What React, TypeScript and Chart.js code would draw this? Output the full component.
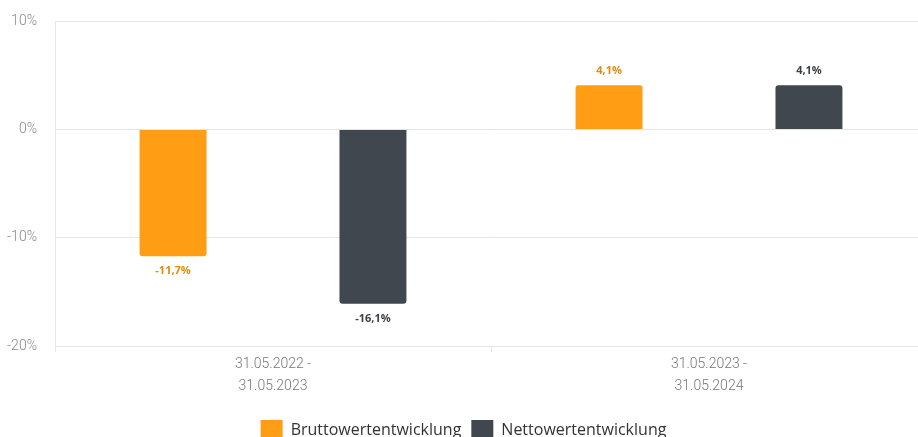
import React, { useEffect, useRef } from "react";
import { Chart, registerables } from "chart.js";

Chart.register(...registerables);

const categories: string[][] = [
  ["31.05.2022 -", "31.05.2023"],
  ["31.05.2023 -", "31.05.2024"],
];
const bruttoValues: number[] = [-11.7, 4.1];
const nettoValues: number[] = [-16.1, 4.1];
const seriesNames: string[] = ["Bruttowertentwicklung", "Nettowertentwicklung"];
const yTicks: number[] = [-20, -10, 0, 10];

const ORANGE = "#FF9D14";
const DARK = "#41474F";
const ORANGE_TEXT = "#E58A0C";
const DARK_TEXT = "#3A3F46";
const TICK_FONT = '"Roboto", sans-serif';

const fmt = (v: number) => v.toFixed(1).replace(".", ",") + "%";

const valueLabels = {
  id: "valueLabels",
  afterDatasetsDraw(chart: any) {
    const ctx = chart.ctx;
    ctx.save();
    ctx.font = 'bold 11px "Open Sans", sans-serif';
    ctx.textAlign = "center";
    ctx.textBaseline = "middle";
    chart.data.datasets.forEach((ds: any, di: number) => {
      const meta = chart.getDatasetMeta(di);
      meta.data.forEach((bar: any, i: number) => {
        const v = ds.data[i] as number;
        ctx.fillStyle = di === 0 ? ORANGE_TEXT : DARK_TEXT;
        const y = v >= 0 ? bar.y - 14 : bar.y + 15;
        ctx.fillText(fmt(v), bar.x, y);
      });
    });
    ctx.restore();
  },
};

export default function App() {
  const ref = useRef<HTMLCanvasElement | null>(null);
  useEffect(() => {
    if (!ref.current) return;
    const chart = new Chart(ref.current, {
      type: "bar",
      data: {
        labels: categories as any,
        datasets: [
          {
            label: seriesNames[0],
            data: bruttoValues,
            backgroundColor: ORANGE,
            borderRadius: 3,
            categoryPercentage: 0.917,
            barPercentage: 0.335,
          },
          {
            label: seriesNames[1],
            data: nettoValues,
            backgroundColor: DARK,
            borderRadius: 3,
            categoryPercentage: 0.917,
            barPercentage: 0.335,
          },
        ],
      },
      options: {
        animation: false,
        responsive: false,
        layout: { padding: { top: 11, left: 0, right: 0, bottom: 0 } },
        plugins: {
          tooltip: { enabled: false },
          legend: {
            position: "bottom",
            labels: {
              boxWidth: 22,
              boxHeight: 20,
              color: "#333",
              padding: 10,
              font: { family: '"Open Sans", sans-serif', size: 16 },
            },
          },
        },
        scales: {
          x: {
            grid: {
              display: true,
              drawOnChartArea: false,
              drawTicks: true,
              tickLength: 6,
              color: "#e4e4e4",
            },
            border: { display: true, color: "#e4e4e4" },
            ticks: {
              color: "#777",
              font: { family: TICK_FONT, size: 14, weight: "300", lineHeight: 1.55 },
              padding: 2,
            },
            afterFit: (s: any) => {
              s.height = 64;
            },
          },
          y: {
            min: -20,
            max: 10,
            afterBuildTicks: (s: any) => {
              s.ticks = yTicks.map((v) => ({ value: v }));
            },
            grid: { color: "#e4e4e4", drawTicks: false },
            border: { display: true, color: "#e4e4e4" },
            ticks: {
              color: "#888",
              font: { family: TICK_FONT, size: 14, weight: "300" },
              padding: 18,
              callback: (v: any) => v + "%",
            },
            afterFit: (s: any) => {
              s.width = 55;
            },
          },
        },
      },
      plugins: [valueLabels],
    });
    return () => chart.destroy();
  }, []);
  return (
    <div
      style={{
        position: "fixed",
        left: 0,
        top: 0,
        width: 918,
        height: 437,
        overflow: "hidden",
        background: "#fff",
      }}
    >
      <canvas ref={ref} width={927} height={455} style={{ display: "block", marginTop: -5 }} />
    </div>
  );
}
